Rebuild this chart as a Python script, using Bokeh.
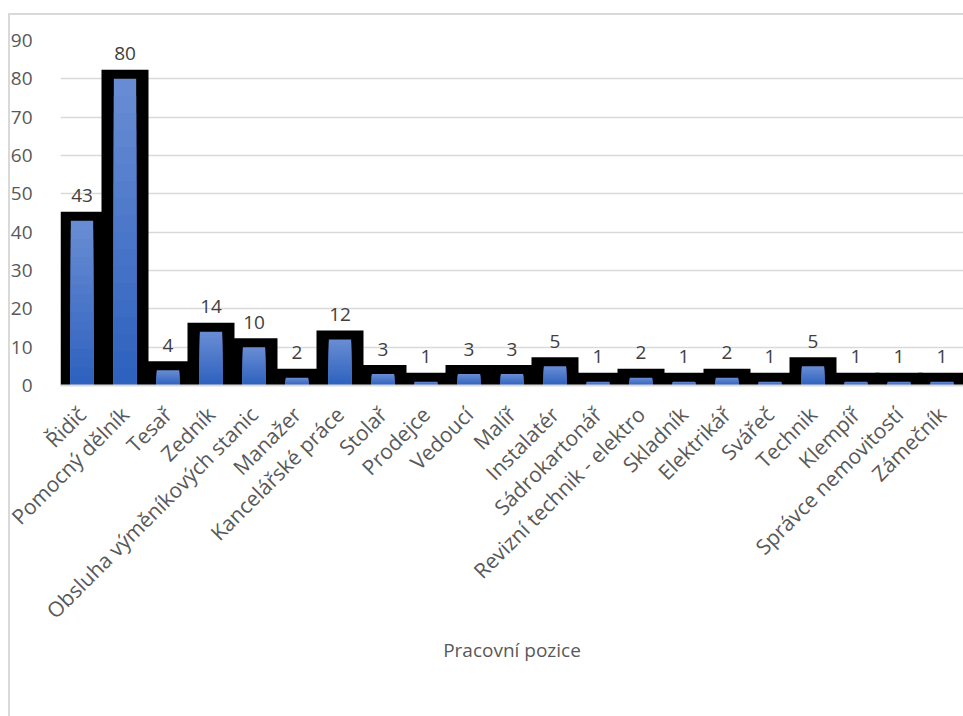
from bokeh.plotting import figure
from bokeh.models import ColumnDataSource, Range1d, FactorRange, SingleIntervalTicker
from bokeh.core.properties import value
from bokeh.embed import file_html
from bokeh.resources import INLINE
import math

categories = ["Řidič", "Pomocný dělník", "Tesař", "Zedník", "Obsluha výměníkových stanic",
              "Manažer", "Kancelářské práce", "Stolař", "Prodejce", "Vedoucí", "Malíř",
              "Instalatér", "Sádrokartonář", "Revizní technik - elektro", "Skladník",
              "Elektrikář", "Svářeč", "Technik", "Klempíř", "Správce nemovitostí", "Zámečník"]
counts = [43, 80, 4, 14, 10, 2, 12, 3, 1, 3, 3, 5, 1, 2, 1, 2, 1, 5, 1, 1, 1]
axis_title = "Pracovní pozice"

FONT = "Open Sans"
TXT = "#595959"
GRID = "#d9d9d9"
TOP_RGB = (104, 140, 212)
BOT_RGB = (46, 98, 190)
STEPS = 18

W, H = 963, 716
frame_top, frame_bottom = 40, 385
px_per_unit = (frame_bottom - frame_top) / 90.0
outline_pad = 9 / px_per_unit

src = ColumnDataSource(dict(
    cat=categories,
    val=counts,
    black_top=[v + outline_pad for v in counts],
    lbl=[str(v) for v in counts],
))

p = figure(x_range=FactorRange(*categories, range_padding=0), y_range=Range1d(0, 90),
           width=W, height=H, output_backend="svg", toolbar_location=None,
           min_border_left=60, min_border_right=0, min_border_top=frame_top,
           min_border_bottom=H - frame_bottom)
# chart-area frame (left and top light grey edges), drawn behind the transparent border area
p.styles = {"background":
            "linear-gradient(#d9d9d9,#d9d9d9) 8px 13px / 2px 100% no-repeat, "
            "linear-gradient(#d9d9d9,#d9d9d9) 8px 13px / 100% 2px no-repeat, white"}
p.outline_line_color = None
p.background_fill_color = "white"
p.border_fill_alpha = 0

p.vbar(x="cat", top="black_top", bottom=0, width=1.093, source=src,
       fill_color="black", line_color=None)

# vertical gradient fill: nested bars, lightest (full height) first, darker shorter on top
for k in range(STEPS, 0, -1):
    t = (k - 1) / (STEPS - 1)
    rgb = tuple(int(round(BOT_RGB[i] + (TOP_RGB[i] - BOT_RGB[i]) * t)) for i in range(3))
    color = "#%02x%02x%02x" % rgb
    p.vbar(x=categories, top=[v * k / STEPS for v in counts], bottom=0, width=0.52,
           fill_color=color, line_color=None)

p.text(x="cat", y="black_top", text="lbl", source=src, text_align="center",
       text_baseline="middle", y_offset=-16, text_font=value(FONT),
       text_font_size="19px", text_color="#404040")

p.xgrid.grid_line_color = None
p.ygrid.grid_line_color = GRID
p.ygrid.grid_line_width = 1.5
p.yaxis.ticker = SingleIntervalTicker(interval=10)
p.yaxis.axis_line_color = None
p.yaxis.major_tick_line_color = None
p.yaxis.minor_tick_line_color = None
p.yaxis.major_label_text_font = FONT
p.yaxis.major_label_text_font_size = "19px"
p.yaxis.major_label_text_color = TXT
p.yaxis.major_label_standoff = 22

p.xaxis.axis_line_color = GRID
p.xaxis.axis_line_width = 2
p.xaxis.major_tick_line_color = None
p.xaxis.minor_tick_line_color = None
p.xaxis.major_label_orientation = math.pi / 4
p.xaxis.major_label_text_font = FONT
p.xaxis.major_label_text_font_size = "21px"
p.xaxis.major_label_text_color = TXT
p.xaxis.major_label_standoff = 19
p.xaxis.axis_label = axis_title
p.xaxis.axis_label_text_font = FONT
p.xaxis.axis_label_text_font_size = "19px"
p.xaxis.axis_label_text_font_style = "normal"
p.xaxis.axis_label_text_color = TXT
p.xaxis.axis_label_standoff = 0

open("out.html", "w").write(file_html(p, INLINE))
